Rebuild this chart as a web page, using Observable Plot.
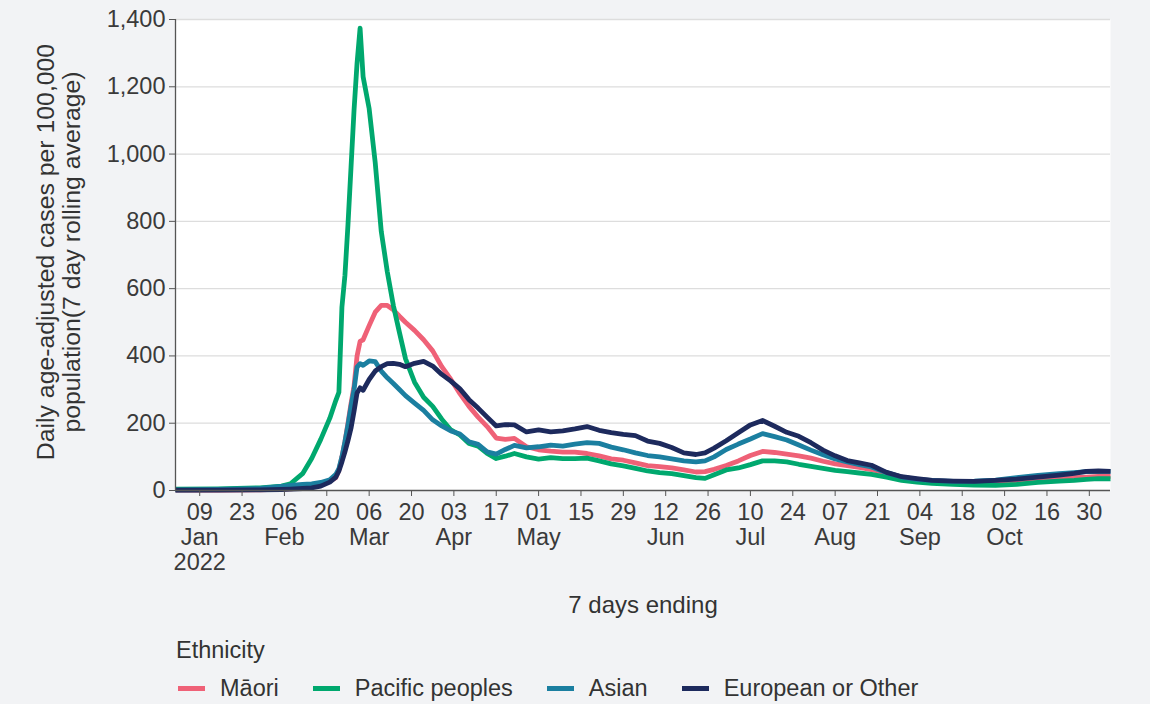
<!DOCTYPE html>
<html>
<head>
<meta charset="utf-8">
<script src="https://cdn.jsdelivr.net/npm/d3@7"></script>
<script src="https://cdn.jsdelivr.net/npm/@observablehq/plot@0.6"></script>
<style>
  html, body { margin: 0; padding: 0; background: #f2f3f5; }
  body { width: 1150px; height: 704px; overflow: hidden; font-family: "Liberation Sans", Arial, sans-serif; color: #333; }
  #legend { padding-left: 176px; font-size: 23.5px; color: #333; }
  #legend .ltitle { height: 28px; line-height: 28px; margin-top: 6px; }
  #legend .litems { display: flex; align-items: center; height: 28px; margin-top: 10px; margin-left: 2px; }
  #legend .item { display: flex; align-items: center; margin-right: 34px; }
  #legend .sw { width: 27px; height: 5px; margin-right: 15px; }
</style>
</head>
<body>
<div id="chart"></div>
<div id="legend"><div class="ltitle">Ethnicity</div><div class="litems"></div></div>
<script>
// ---- data (7-day rolling average, age-adjusted cases per 100,000) ----
const dates = [
  "2022-01-01","2022-01-15","2022-01-29","2022-02-05","2022-02-08","2022-02-12","2022-02-15","2022-02-18",
  "2022-02-21","2022-02-23","2022-02-24","2022-02-25","2022-02-26","2022-02-27","2022-02-28","2022-03-01",
  "2022-03-02","2022-03-03","2022-03-04","2022-03-06","2022-03-08","2022-03-10","2022-03-12","2022-03-14",
  "2022-03-16","2022-03-18","2022-03-21","2022-03-24","2022-03-27","2022-03-30","2022-04-02","2022-04-05",
  "2022-04-08","2022-04-11","2022-04-14","2022-04-17","2022-04-20","2022-04-23","2022-04-27","2022-05-01",
  "2022-05-05","2022-05-09","2022-05-13","2022-05-17","2022-05-21","2022-05-25","2022-05-29","2022-06-02",
  "2022-06-06","2022-06-10","2022-06-14","2022-06-18","2022-06-22","2022-06-25","2022-06-28","2022-07-02",
  "2022-07-06","2022-07-10","2022-07-14","2022-07-18","2022-07-22","2022-07-26","2022-07-30","2022-08-03",
  "2022-08-07","2022-08-11","2022-08-15","2022-08-19","2022-08-24","2022-08-29","2022-09-03","2022-09-08",
  "2022-09-15","2022-09-22","2022-09-29","2022-10-06","2022-10-13","2022-10-20","2022-10-25","2022-10-29",
  "2022-11-02","2022-11-06"
];
const maori = [
  1,1,2,4,5,8,12,18,
  28,38,60,100,145,200,258,310,
  400,443,448,490,530,550,550,537,
  518,500,476,448,415,368,330,288,
  250,218,190,156,152,155,130,121,
  117,114,114,110,103,94,90,82,
  74,71,67,61,55,56,63,74,
  88,104,116,113,108,103,96,87,
  79,74,69,62,52,40,33,29,
  26,23,22,25,30,34,38,40,
  42,42
];
const pacific = [
  4,5,8,13,20,50,95,152,
  215,268,292,545,640,790,960,1130,
  1270,1374,1230,1135,975,770,650,550,
  470,392,322,277,250,212,180,165,
  140,132,110,95,102,110,100,93,
  98,95,95,96,88,79,73,66,
  58,53,50,44,38,36,47,61,
  67,77,88,88,85,78,72,66,
  60,56,52,48,40,30,25,21,
  18,16,15,18,24,28,30,33,
  35,35
];
const asian = [
  2,3,6,12,15,18,20,24,
  32,48,65,100,145,195,250,300,
  367,377,372,385,383,355,335,318,
  300,282,260,238,210,192,177,168,
  145,137,115,108,122,134,127,130,
  135,132,138,142,140,129,121,112,
  104,100,94,88,85,88,100,122,
  138,153,169,160,150,135,120,106,
  94,85,77,70,53,40,33,30,
  27,28,31,38,45,50,53,56,
  57,57
];
const european = [
  1,1,2,3,4,6,8,13,
  25,40,58,85,115,148,185,235,
  290,305,298,330,355,368,377,378,
  375,368,378,384,370,345,325,302,
  270,245,218,192,196,195,174,180,
  174,177,183,190,179,172,167,163,
  147,140,128,112,107,112,126,148,
  172,195,208,191,173,161,142,120,
  103,89,82,75,54,41,35,30,
  28,27,30,34,40,46,51,57,
  58,57
];
const seriesNames = ["Māori", "Pacific peoples", "Asian", "European or Other"];
const seriesColors = ["#ef6177", "#00a86e", "#1b7fa0", "#1d2a5d"];
const xDomain = ["2022-01-01", "2022-11-06"];
const yTicks = [0, 200, 400, 600, 800, 1000, 1200, 1400];
const tickDates = [
  "2022-01-09","2022-01-23","2022-02-06","2022-02-20","2022-03-06","2022-03-20","2022-04-03","2022-04-17",
  "2022-05-01","2022-05-15","2022-05-29","2022-06-12","2022-06-26","2022-07-10","2022-07-24","2022-08-07",
  "2022-08-21","2022-09-04","2022-09-18","2022-10-02","2022-10-16","2022-10-30"
];
const tickLabels = [
  "09\nJan\n2022","23","06\nFeb","20","06\nMar","20","03\nApr","17",
  "01\nMay","15","29","12\nJun","26","10\nJul","24","07\nAug",
  "21","04\nSep","18","02\nOct","16","30"
];
const yTitle = ["Daily age-adjusted cases per 100,000", "population(7 day rolling average)"];
const xTitle = "7 days ending";
const legendTitle = "Ethnicity";

// ---- build table ----
const seriesValues = [maori, pacific, asian, european];
const rows = seriesNames.flatMap((s, i) =>
  seriesValues[i].map((v, j) => ({date: new Date(dates[j]), value: v, series: s})));
const tickDateObjs = tickDates.map(d => new Date(d));
const labelMap = new Map(tickDateObjs.map((d, i) => [+d, tickLabels[i]]));
const FONT = '"Liberation Sans", Arial, sans-serif';

const chart = Plot.plot({
  width: 1150,
  height: 630,
  marginLeft: 175,
  marginRight: 40,
  marginTop: 19,
  marginBottom: 140,
  style: {background: "transparent", fontFamily: FONT, fontSize: "23px", color: "#3a3a3a", overflow: "visible"},
  x: {type: "utc", domain: xDomain.map(d => new Date(d))},
  y: {domain: [0, 1400]},
  color: {domain: seriesNames, range: seriesColors},
  marks: [
    Plot.frame({fill: "white", stroke: null}),
    Plot.gridY(yTicks.filter(d => d > 0), {stroke: "#dddddd", strokeOpacity: 1, strokeWidth: 1.3}),
    Plot.line(rows, {x: "date", y: "value", z: "series", stroke: "series", strokeWidth: 4.8,
      strokeLinejoin: "round", strokeLinecap: "butt"}),
    Plot.ruleY([0], {stroke: "#555", strokeWidth: 1.3}),
    Plot.ruleX([new Date(xDomain[0])], {stroke: "#555", strokeWidth: 1.3}),
    Plot.axisY(yTicks, {tickFormat: d3.format(","), tickSize: 6, tickPadding: 4, label: null,
      fontSize: 23.5, stroke: "#555"}),
    Plot.axisX(tickDateObjs, {tickFormat: d => labelMap.get(+d), tickSize: 6, tickPadding: 6,
      label: null, fontSize: 23.5, lineHeight: 1.06, stroke: "#555"}),
    Plot.text([yTitle[0]], {text: d => d, frameAnchor: "left", textAnchor: "middle", dx: -129, dy: -3, rotate: -90, fontSize: 24.8, fill: "#333"}),
    Plot.text([yTitle[1]], {text: d => d, frameAnchor: "left", textAnchor: "middle", dx: -103, dy: -3, rotate: -90, fontSize: 24.8, fill: "#333"}),
    Plot.text([xTitle], {text: d => d, frameAnchor: "bottom", dy: 122, fontSize: 24, fill: "#333"})
  ]
});
document.getElementById("chart").appendChild(chart);

// ---- legend ----
document.querySelector("#legend .ltitle").textContent = legendTitle;
const items = document.querySelector("#legend .litems");
seriesNames.forEach((s, i) => {
  const it = document.createElement("div");
  it.className = "item";
  const sw = document.createElement("div");
  sw.className = "sw";
  sw.style.background = seriesColors[i];
  const tx = document.createElement("span");
  tx.textContent = s;
  it.appendChild(sw);
  it.appendChild(tx);
  items.appendChild(it);
});
</script>
</body>
</html>
